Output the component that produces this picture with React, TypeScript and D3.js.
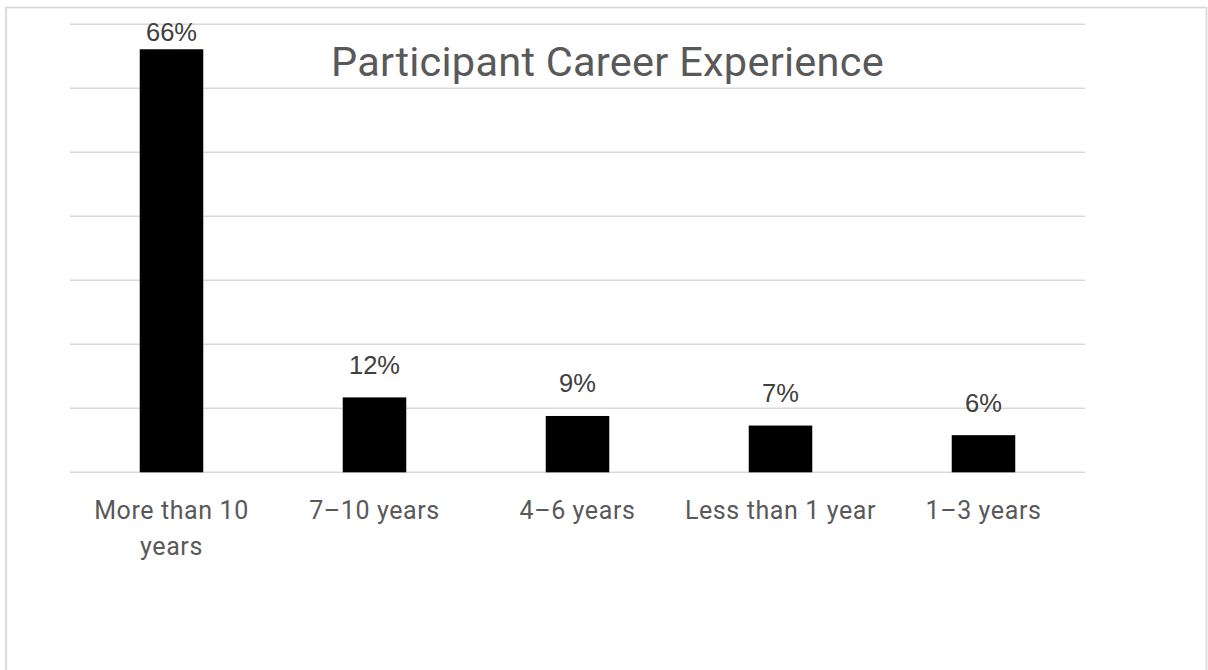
import React, { useEffect, useRef } from "react";
import * as d3 from "d3";

const categories: string[] = [
  "More than 10 years",
  "7–10 years",
  "4–6 years",
  "Less than 1 year",
  "1–3 years",
];
const values: number[] = [66.1, 11.7, 8.8, 7.3, 5.8];
const valueLabels: string[] = ["66%", "12%", "9%", "7%", "6%"];
const gridTicks: number[] = [0, 10, 20, 30, 40, 50, 60, 70];
const title = "Participant Career Experience";

const W = 1208;
const H = 670;

export default function App() {
  const ref = useRef<SVGSVGElement | null>(null);

  useEffect(() => {
    const svg = d3.select(ref.current);
    svg.selectAll("*").remove();

    const left = 70;
    const right = 1085;
    const top = 24.3;
    const bottom = 472.3;

    const x = d3
      .scaleBand<string>()
      .domain(categories)
      .range([left, right])
      .paddingInner(0.687)
      .paddingOuter(0.3435);
    const y = d3.scaleLinear().domain([0, 70]).range([bottom, top]);

    svg
      .append("rect")
      .attr("x", 6)
      .attr("y", 7.5)
      .attr("width", 1200.5)
      .attr("height", 700)
      .attr("fill", "#fff")
      .attr("stroke", "#d9d9d9")
      .attr("stroke-width", 1.8);

    svg
      .append("g")
      .selectAll("line")
      .data(gridTicks)
      .join("line")
      .attr("x1", left)
      .attr("x2", right)
      .attr("y1", (d) => y(d))
      .attr("y2", (d) => y(d))
      .attr("stroke", "#d9d9d9")
      .attr("stroke-width", 1.5);

    svg
      .append("g")
      .selectAll("rect")
      .data(values)
      .join("rect")
      .attr("x", (_, i) => x(categories[i])!)
      .attr("width", x.bandwidth())
      .attr("y", (d) => y(d))
      .attr("height", (d) => bottom - y(d))
      .attr("fill", "#000");

    svg
      .append("g")
      .selectAll("text")
      .data(values)
      .join("text")
      .attr("x", (_, i) => x(categories[i])! + x.bandwidth() / 2)
      .attr("y", (d) => Math.max(y(d) - 23.5, y(70) + 16.7))
      .attr("text-anchor", "middle")
      .attr("font-family", "'Liberation Sans', Arial, sans-serif")
      .attr("font-size", 25.5)
      .attr("fill", "#404040")
      .text((_, i) => valueLabels[i]);

    const catG = svg.append("g");
    categories.forEach((c) => {
      const cx = x(c)! + x.bandwidth() / 2;
      const t = catG
        .append("text")
        .attr("x", cx)
        .attr("y", 519.3)
        .attr("text-anchor", "middle")
        .attr("font-family", "Roboto, sans-serif")
        .attr("font-size", 25)
        .attr("letter-spacing", 0.6)
        .attr("fill", "#595959");
      const words = c.split(" ");
      const maxW = x.step() - 8;
      let line: string[] = [];
      let tspan = t.append("tspan").attr("x", cx).attr("dy", 0);
      words.forEach((w) => {
        line.push(w);
        tspan.text(line.join(" "));
        if ((tspan.node() as SVGTextContentElement).getComputedTextLength() > maxW && line.length > 1) {
          line.pop();
          tspan.text(line.join(" "));
          line = [w];
          tspan = t.append("tspan").attr("x", cx).attr("dy", 36).text(w);
        }
      });
    });

    svg
      .append("text")
      .attr("x", 607.5)
      .attr("y", 76)
      .attr("text-anchor", "middle")
      .attr("font-family", "Roboto, sans-serif")
      .attr("font-size", 41.5)
      .attr("letter-spacing", 0.25)
      .attr("fill", "#595959")
      .text(title);
  }, []);

  return (
    <div style={{ position: "absolute", left: 0, top: 0 }}>
      <svg ref={ref} width={W} height={H} style={{ display: "block" }} />
    </div>
  );
}
